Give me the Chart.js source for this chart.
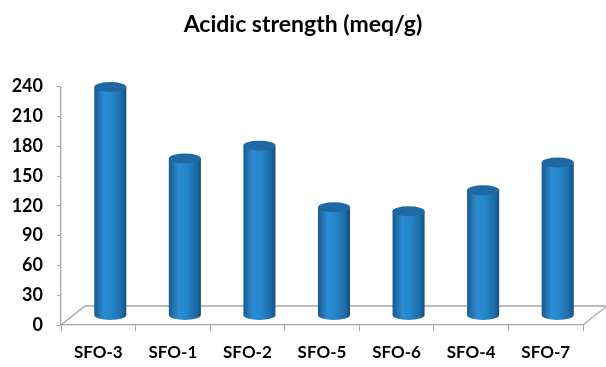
<!DOCTYPE html>
<html>
<head>
<meta charset="utf-8">
<script src="https://cdn.jsdelivr.net/npm/chart.js@4.4.1/dist/chart.umd.min.js"></script>
<style>
  html, body { margin: 0; padding: 0; background: #fff; }
  #wrap { width: 606px; height: 367px; position: relative; }
</style>
</head>
<body>
<div id="wrap"><canvas id="acidChart"></canvas></div>
<script>
// chart data
const categories = ['SFO-3', 'SFO-1', 'SFO-2', 'SFO-5', 'SFO-6', 'SFO-4', 'SFO-7'];
const acidity = [230, 158, 171, 109, 105, 126, 154];
const yTicks = [0, 30, 60, 90, 120, 150, 180, 210, 240];

const DEPTH_X = 24;   // 3d floor offset
const DEPTH_Y = -19;
const AXIS_GRAY = '#a6a6a6';

// draws the 3d floor behind the bars
const floorPlugin = {
    id: 'floor3d',
    beforeDatasetsDraw(chart) {
        const { ctx, chartArea } = chart;
        const base = chart.scales.y.getPixelForValue(0);
        ctx.save();
        ctx.strokeStyle = AXIS_GRAY;
        ctx.lineWidth = 1.3;
        ctx.beginPath();
        ctx.moveTo(chartArea.left, base);
        ctx.lineTo(chartArea.left + DEPTH_X, base + DEPTH_Y);
        ctx.lineTo(chartArea.right + DEPTH_X, base + DEPTH_Y);
        ctx.lineTo(chartArea.right, base);
        ctx.stroke();
        ctx.restore();
    }
};

// draws each bar as a cylinder, using the bar element position
const cylinderPlugin = {
    id: 'cylinders',
    afterDatasetsDraw(chart) {
        const { ctx } = chart;
        const meta = chart.getDatasetMeta(0);
        const sx = DEPTH_X / 2, sy = DEPTH_Y / 2;
        meta.data.forEach((bar) => {
            const p = bar.getProps(['x', 'y', 'base', 'width'], true);
            const left = p.x - p.width / 2 + sx;
            const right = p.x + p.width / 2 + sx;
            const cx = (left + right) / 2;
            const top = p.y + sy;
            const bottom = p.base + sy;
            const rx = p.width / 2;
            const ry = 5;

            const grad = ctx.createLinearGradient(left, 0, right, 0);
            grad.addColorStop(0, '#1a5a8e');
            grad.addColorStop(0.3, '#2b8cd2');
            grad.addColorStop(0.55, '#2686ca');
            grad.addColorStop(0.85, '#1d6ba8');
            grad.addColorStop(1, '#164f80');

            ctx.save();
            ctx.fillStyle = grad;
            ctx.beginPath();
            ctx.moveTo(left, top);
            ctx.lineTo(left, bottom);
            ctx.ellipse(cx, bottom, rx, ry, 0, Math.PI, 0, true);
            ctx.lineTo(right, top);
            ctx.closePath();
            ctx.fill();

            // cap
            ctx.fillStyle = '#1e68a4';
            ctx.beginPath();
            ctx.ellipse(cx, top, rx, ry, 0, 0, Math.PI * 2);
            ctx.fill();
            ctx.restore();
        });
    }
};

const ctx = document.getElementById('acidChart').getContext('2d');
new Chart(ctx, {
    type: 'bar',
    data: {
        labels: categories,
        datasets: [{
            label: 'Acidic strength',
            data: acidity,
            backgroundColor: 'rgba(0,0,0,0)',
            borderWidth: 0,
            barPercentage: 0.86,
            categoryPercentage: 0.5
        }]
    },
    options: {
        responsive: true,
        maintainAspectRatio: false,
        animation: false,
        layout: { padding: 0 },
        plugins: {
            legend: { display: false },
            tooltip: { enabled: false },
            title: {
                display: true,
                text: 'Acidic strength (meq/g)',
                color: '#000',
                font: { family: 'Lato', size: 23, weight: 'bold' },
                padding: { top: 11, bottom: 48 }
            }
        },
        scales: {
            x: {
                grid: {
                    display: true,
                    drawOnChartArea: false,
                    offset: true,
                    color: AXIS_GRAY,
                    tickLength: 6
                },
                border: { display: true, color: AXIS_GRAY, width: 1.3 },
                ticks: {
                    color: '#000',
                    padding: 11,
                    font: { family: 'Lato', size: 17, weight: 'bold' }
                },
                afterFit(scale) { scale.height = 42; }
            },
            y: {
                min: 0,
                max: 240,
                afterBuildTicks(scale) {
                    scale.ticks = yTicks.map(v => ({ value: v }));
                },
                grid: {
                    drawOnChartArea: false,
                    color: AXIS_GRAY,
                    tickLength: 4
                },
                border: { display: true, color: AXIS_GRAY, width: 1.3 },
                ticks: {
                    color: '#000',
                    padding: 14,
                    font: { family: 'Lato', size: 18, weight: 'bold' }
                },
                afterFit(scale) { scale.width = 61; }
            },
            // empty right axis, leaves room for the floor depth
            yRight: {
                position: 'right',
                min: 0,
                max: 240,
                grid: { display: false },
                border: { display: false },
                ticks: { display: false },
                afterFit(scale) { scale.width = 23; }
            }
        }
    },
    plugins: [floorPlugin, cylinderPlugin]
});
</script>
</body>
</html>
